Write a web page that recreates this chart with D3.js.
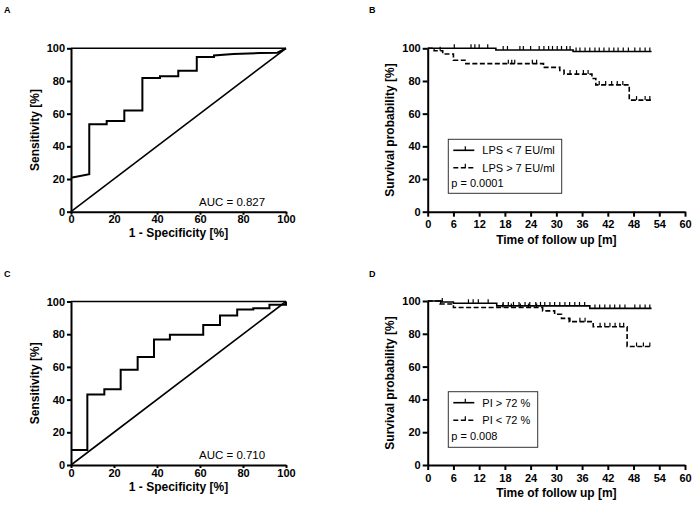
<!DOCTYPE html>
<html><head><meta charset="utf-8">
<script src="https://cdn.jsdelivr.net/npm/d3@7"></script>
<style>
body{margin:0;background:#fff;}
text{font-family:"Liberation Sans",Arial,sans-serif;fill:#000;}
</style></head><body>
<svg id="c" width="697" height="508" style="display:block"></svg>
<script>
// ---------- DATA ----------
const rocTicks = [0, 20, 40, 60, 80, 100];
const kmTimeTicks = [0, 6, 12, 18, 24, 30, 36, 42, 48, 54, 60];
const kmSurvTicks = [0, 20, 40, 60, 80, 100];

// Panel A ROC (1 - specificity, sensitivity)
const rocA_fpr = [0, 8.5, 8.5, 16.6, 16.6, 24.8, 24.8, 33.2, 33.2, 41.4, 41.4, 49.9, 49.9, 58.5, 58.5, 66.5, 66.5, 75.5, 87.9, 96, 100];
const rocA_tpr = [20.8, 22.9, 53.5, 53.5, 55.5, 55.5, 62.0, 62.0, 81.8, 81.8, 82.9, 82.9, 86.3, 86.3, 94.7, 94.7, 95.6, 96.5, 97.1, 97.3, 100];
const aucA = "AUC = 0.827";

// Panel C ROC
const rocC_fpr = [0, 7.6, 7.6, 15.5, 15.5, 23.1, 23.1, 31, 31, 38.6, 38.6, 46, 46, 61.5, 61.5, 69.3, 69.3, 77.3, 77.3, 84.8, 84.8, 92.3, 92.3, 100, 100];
const rocC_tpr = [9.2, 9.2, 43.1, 43.1, 46.3, 46.3, 58.2, 58.2, 66.1, 66.1, 76.7, 76.7, 79.6, 79.6, 85.7, 85.7, 91.4, 91.4, 95.1, 95.1, 95.9, 95.9, 98, 98, 100];
const aucC = "AUC = 0.710";

// Panel B Kaplan-Meier
const kmB1_label = "LPS < 7 EU/ml";
const kmB1_t = [0, 15.9, 33.9, 52.2];
const kmB1_s = [100, 99.0, 98.0, 98.0];
const kmB1_cens = [6.2, 10.1, 11.0, 12.0, 14.0, 17.6, 18.6, 21.5, 22.3, 24, 26, 27.1, 28.2, 29.1, 30.2, 31.2, 32.4, 33.2, 34.6, 35.5, 36.7, 37.8, 39, 40, 41.1, 42.3, 43.4, 44.4, 45.6, 46.8, 48.3, 49.5, 50.7, 51.8];
const kmB2_label = "LPS > 7 EU/ml";
const kmB2_t = [0, 1.5, 3.5, 6, 8.9, 27, 30.8, 31.8, 38.3, 39.2, 47, 52.2];
const kmB2_s = [100, 98.5, 96.5, 92.7, 90.6, 88.3, 86.5, 84.2, 81.5, 77.6, 68.3, 68.3];
const kmB2_cens = [2.9, 18.8, 19.6, 20.3, 24.4, 25.4, 33.2, 34.7, 36.3, 37.4, 40, 41.5, 42.9, 44.2, 45.5, 48.7, 50.7, 51.8];
const pB = "p = 0.0001";

// Panel D Kaplan-Meier
const kmD1_label = "PI > 72 %";
const kmD1_t = [0, 3.3, 6, 16.1, 37.8, 52.2];
const kmD1_s = [100, 99.4, 98.6, 97.0, 95.5, 95.5];
const kmD1_cens = [3.4, 9.5, 10.6, 11.8, 14.1, 17.6, 18.8, 20, 21.3, 22.7, 23.8, 25.2, 26.3, 27.3, 28.5, 29.6, 30.8, 32, 33.1, 34.3, 35.4, 36.6, 39, 40.1, 41.3, 42.5, 43.6, 44.8, 46, 48.3, 49.5, 50.7, 51.8];
const kmD2_label = "PI < 72 %";
const kmD2_t = [0, 2.9, 6, 26.8, 29.6, 31.2, 33, 38.6, 46.5, 52.2];
const kmD2_s = [100, 98.2, 96, 94, 91.9, 89.4, 87.4, 84.3, 72.3, 72.3];
const kmD2_cens = [3.0, 17.5, 19.5, 21.6, 23.5, 25.4, 33.2, 35.5, 36.7, 40.2, 41.3, 42.5, 43.7, 44.8, 45.7, 48.7, 50.3, 51.8];
const pD = "p = 0.008";

// ---------- DRAW ----------
const svg = d3.select("#c");
const FONT = '"Liberation Sans", Arial, sans-serif';

function styleAxis(g) {
  g.select(".domain").attr("stroke", "#000").attr("stroke-width", 2);
  g.selectAll(".tick line").attr("stroke", "#000").attr("stroke-width", 2);
  g.selectAll(".tick text").attr("font-family", FONT).attr("font-size", 11).attr("font-weight", "bold").attr("fill", "#000");
}

function panelLetter(txt, x, y) {
  svg.append("text").attr("x", x).attr("y", y).attr("font-size", 9).attr("font-weight", "bold").text(txt);
}

function rocPanel(fpr, tpr, auc, yRange, letter, letterPos) {
  const x = d3.scaleLinear().domain([0, 100]).range([71, 286]);
  const y = d3.scaleLinear().domain([0, 100]).range(yRange);
  const g = svg.append("g");
  g.append("line").attr("x1", x(0)).attr("x2", x(100)).attr("y1", y(100)).attr("y2", y(100))
    .attr("stroke", "#000").attr("stroke-width", 1.6);
  g.append("line").attr("x1", x(0)).attr("x2", x(100)).attr("y1", y(0)).attr("y2", y(100))
    .attr("stroke", "#000").attr("stroke-width", 1.6);
  const pts = fpr.map((v, i) => [v, tpr[i]]);
  g.append("path").attr("d", d3.line().x(d => x(d[0])).y(d => y(d[1]))(pts))
    .attr("fill", "none").attr("stroke", "#000").attr("stroke-width", 2);
  const ax = g.append("g").attr("transform", `translate(0,${y(0)})`)
    .call(d3.axisBottom(x).tickValues(rocTicks).tickSize(3).tickPadding(1).tickSizeOuter(0));
  styleAxis(ax);
  const ay = g.append("g").attr("transform", `translate(${x(0)},0)`)
    .call(d3.axisLeft(y).tickValues(rocTicks).tickSize(4).tickPadding(2).tickSizeOuter(0));
  styleAxis(ay);
  g.append("text").attr("x", (x(0) + x(100)) / 2).attr("y", y(0) + 25.5).attr("text-anchor", "middle")
    .attr("font-size", 12).attr("font-weight", "bold").text("1 - Specificity [%]");
  g.append("text").attr("transform", `translate(35,${(y(0) + y(100)) / 2}) rotate(-90)`)
    .attr("text-anchor", "middle").attr("dy", "0.35em")
    .attr("font-size", 12).attr("font-weight", "bold").text("Sensitivity [%]");
  g.append("text").attr("x", 199).attr("y", y(0) - 6).attr("font-size", 11.5).text(auc);
  panelLetter(letter, letterPos[0], letterPos[1]);
}

function survAt(ts, ss, c) {
  let s = ss[0];
  for (let i = 0; i < ts.length; i++) if (ts[i] <= c) s = ss[i];
  return s;
}

function kmPanel(series, yRange, letter, letterPos, legendBox, pText) {
  const x = d3.scaleLinear().domain([0, 60]).range([427.7, 685]);
  const y = d3.scaleLinear().domain([0, 100]).range(yRange);
  const g = svg.append("g");
  const line = d3.line().x(d => x(d[0])).y(d => y(d[1])).curve(d3.curveStepAfter);
  series.forEach(sr => {
    const pts = sr.t.map((v, i) => [v, sr.s[i]]);
    g.append("path").attr("d", line(pts)).attr("fill", "none").attr("stroke", "#000")
      .attr("stroke-width", 1.6).attr("stroke-dasharray", sr.dash ? "5,2.5" : null);
    sr.c.forEach(c => {
      const s = survAt(sr.t, sr.s, c);
      g.append("line").attr("x1", x(c)).attr("x2", x(c)).attr("y1", y(s)).attr("y2", y(s) - 4)
        .attr("stroke", "#000").attr("stroke-width", 1.2);
    });
  });
  const ax = g.append("g").attr("transform", `translate(0,${y(0)})`)
    .call(d3.axisBottom(x).tickValues(kmTimeTicks).tickSize(5).tickPadding(4).tickSizeOuter(0));
  styleAxis(ax);
  const ay = g.append("g").attr("transform", `translate(${x(0)},0)`)
    .call(d3.axisLeft(y).tickValues(kmSurvTicks).tickSize(5).tickPadding(2).tickSizeOuter(0));
  styleAxis(ay);
  g.append("text").attr("x", (x(0) + x(60)) / 2).attr("y", y(0) + 32).attr("text-anchor", "middle")
    .attr("font-size", 12).attr("font-weight", "bold").text("Time of follow up [m]");
  g.append("text").attr("transform", `translate(390,${(y(0) + y(100)) / 2}) rotate(-90)`)
    .attr("text-anchor", "middle").attr("dy", "0.35em")
    .attr("font-size", 12).attr("font-weight", "bold").text("Survival probability [%]");
  const [lx, ly, lw, lh] = legendBox;
  g.append("rect").attr("x", lx).attr("y", ly).attr("width", lw).attr("height", lh)
    .attr("fill", "#fff").attr("stroke", "#333").attr("stroke-width", 1);
  series.forEach((sr, i) => {
    const yy = ly + 11 + i * 17.5;
    g.append("line").attr("x1", lx + 5).attr("x2", lx + 26).attr("y1", yy).attr("y2", yy)
      .attr("stroke", "#000").attr("stroke-width", 1.6).attr("stroke-dasharray", sr.dash ? "5,2.5" : null);
    g.append("line").attr("x1", lx + 17).attr("x2", lx + 17).attr("y1", yy).attr("y2", yy - 4)
      .attr("stroke", "#000").attr("stroke-width", 1.2);
    g.append("text").attr("x", lx + 34).attr("y", yy).attr("dy", "0.35em").attr("font-size", 11).text(sr.label);
  });
  g.append("text").attr("x", lx + 3).attr("y", ly + 11 + 2 * 16.5).attr("dy", "0.35em").attr("font-size", 11).text(pText);
  panelLetter(letter, letterPos[0], letterPos[1]);
}

rocPanel(rocA_fpr, rocA_tpr, aucA, [211.7, 48.3], "A", [4, 13]);
rocPanel(rocC_fpr, rocC_tpr, aucC, [465, 301.5], "C", [4, 277]);
kmPanel([
  {t: kmB1_t, s: kmB1_s, c: kmB1_cens, dash: false, label: kmB1_label},
  {t: kmB2_t, s: kmB2_s, c: kmB2_cens, dash: true, label: kmB2_label}
], [211.7, 48.3], "B", [369, 13], [448.3, 139.3, 113.4, 54], pB);
kmPanel([
  {t: kmD1_t, s: kmD1_s, c: kmD1_cens, dash: false, label: kmD1_label},
  {t: kmD2_t, s: kmD2_s, c: kmD2_cens, dash: true, label: kmD2_label}
], [465, 301], "D", [369, 277], [448.3, 391.7, 89.4, 55.6], pD);
</script></body></html>
